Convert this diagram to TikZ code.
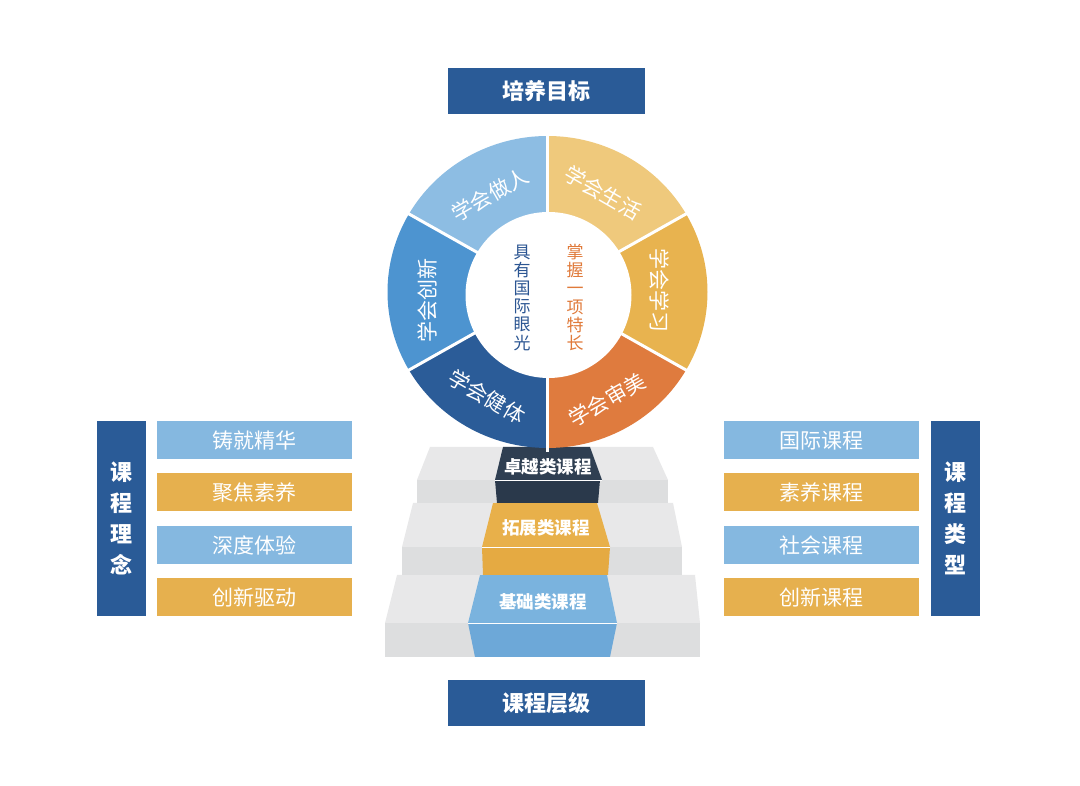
\documentclass[tikz,border=0pt]{standalone}
\usepackage{fontspec}
\setmainfont{Noto Sans CJK SC}
\definecolor{dkblue}{HTML}{2A5B97}
\definecolor{lblue}{HTML}{85B8E0}
\definecolor{yel}{HTML}{E6B04E}
\definecolor{wA}{HTML}{8DBDE3}
\definecolor{wB}{HTML}{4D94D0}
\definecolor{wC}{HTML}{2B5C98}
\definecolor{wD}{HTML}{EFC97C}
\definecolor{wE}{HTML}{E8B34F}
\definecolor{wF}{HTML}{DF7B3E}
\definecolor{ctxtblue}{HTML}{2B5592}
\definecolor{ctxtorange}{HTML}{E07A3A}
\definecolor{stairtop}{HTML}{E8E8E9}
\definecolor{stairfront}{HTML}{DDDEDF}
\definecolor{navy}{HTML}{2F3F52}
\definecolor{navyf}{HTML}{2A394B}
\definecolor{sblue}{HTML}{7AB3DE}
\definecolor{sbluef}{HTML}{6DA8D8}
\definecolor{syel}{HTML}{E8B04A}
\definecolor{syelf}{HTML}{E5AA42}
\tikzset{
  titlebox/.style={fill=dkblue, text=white, font=\bfseries\fontsize{22}{26}\selectfont, minimum width=197, minimum height=46, inner sep=0},
  itembox/.style={text=white, font=\fontsize{21}{25}\selectfont, minimum width=195, minimum height=38, inner sep=0},
  sidebox/.style={fill=dkblue, text=white, font=\bfseries\fontsize{22}{31}\selectfont, minimum width=49, minimum height=195, inner sep=0, align=center},
  wheeltxt/.style={text=white, font=\fontsize{21}{25}\selectfont, inner sep=0},
  centxt/.style={font=\fontsize{17}{18.2}\selectfont, align=center, inner sep=0},
  stairtxt/.style={text=white, font=\bfseries\fontsize{17.5}{20}\selectfont, inner sep=0},
  sep/.style={white, line width=3}
}
\begin{document}
\begin{tikzpicture}[x=1pt,y=1pt]
\useasboundingbox (0,0) rectangle (1080,786);
\fill[white] (0,0) rectangle (1080,786);

% ---------- stairs ----------
% step 3 (bottom)
\fill[stairtop] (397,211) -- (695,211) -- (700,163) -- (385,163) -- cycle;
\fill[stairfront] (385,163) rectangle (700,129);
\fill[sblue] (480,211) -- (607,211) -- (617,163) -- (468,163) -- cycle;
\fill[sbluef] (468,163) -- (617,163) -- (610,129) -- (475,129) -- cycle;
\draw[white, line width=0.8] (468,163) -- (617,163);
% step 2
\fill[stairtop] (413,283) -- (673,283) -- (682,239) -- (402,239) -- cycle;
\fill[stairfront] (402,239) rectangle (682,211);
\fill[syel] (493,283) -- (597,283) -- (610,239) -- (482,239) -- cycle;
\fill[syelf] (482,239) -- (610,239) -- (608,211) -- (483,211) -- cycle;
\draw[white, line width=0.8] (482,239) -- (610,239);
% step 1 (top)
\fill[stairtop] (430,339) -- (653,339) -- (668,306) -- (417,306) -- cycle;
\fill[stairfront] (417,306) rectangle (668,283);
\fill[navy] (503,339) -- (590,339) -- (602,306) -- (495,306) -- cycle;
\fill[navyf] (495,306) -- (600,306) -- (598,283) -- (497,283) -- cycle;
\draw[white, line width=0.8] (495,306) -- (602,306);

\node[stairtxt] (s1) at (548,319) {卓越类课程};
\node[stairtxt] (s2) at (546,258) {拓展类课程};
\node[stairtxt] (s3) at (543,184) {基础类课程};

% ---------- wheel ----------
\coordinate (C) at (547.5,494);
\fill[wA] (C) -- ++(90:160 and 156) arc[start angle=90, end angle=150, x radius=160, y radius=156] -- cycle;
\fill[wB] (C) -- ++(150:160 and 156) arc[start angle=150, end angle=210, x radius=160, y radius=156] -- cycle;
\fill[wC] (C) -- ++(210:160 and 156) arc[start angle=210, end angle=270, x radius=160, y radius=156] -- cycle;
\fill[wD] (C) -- ++(30:160 and 156) arc[start angle=30, end angle=90, x radius=160, y radius=156] -- cycle;
\fill[wE] (C) -- ++(-30:160 and 156) arc[start angle=-30, end angle=30, x radius=160, y radius=156] -- cycle;
\fill[wF] (C) -- ++(-90:160 and 156) arc[start angle=-90, end angle=-30, x radius=160, y radius=156] -- cycle;
\foreach \a in {90,150,210,270,330,30} {
  \draw[sep] (C) -- ++(\a:164 and 160);
}
\fill[white] (548.5,491) circle[radius=83];

\node[wheeltxt, rotate=30]  (w1) at (490,591) {学会做人};
\node[wheeltxt, rotate=90]  (w2) at (427,485) {学会创新};
\node[wheeltxt, rotate=-30] (w3) at (487,389) {学会健体};
\node[wheeltxt, rotate=-30] (w4) at (603,593) {学会生活};
\node[wheeltxt, rotate=-90] (w5) at (660,495) {学会学习};
\node[wheeltxt, rotate=30]  (w6) at (607,386) {学会审美};

\node[centxt, text=ctxtblue] (c1) at (522,488.5) {具\\有\\国\\际\\眼\\光};
\node[centxt, text=ctxtorange] (c2) at (575,488.5) {掌\\握\\一\\项\\特\\长};

% ---------- titles ----------
\node[titlebox] (t1) at (546.5,695) {培养目标};
\node[titlebox] (t2) at (546.5,82.5) {课程层级};

% ---------- left panel ----------
\node[sidebox] (L) at (121.5,267.5) {课\\程\\理\\念};
\node[itembox, fill=lblue] (l1) at (254.5,345.5) {铸就精华};
\node[itembox, fill=yel]   (l2) at (254.5,293.5) {聚焦素养};
\node[itembox, fill=lblue] (l3) at (254.5,241)   {深度体验};
\node[itembox, fill=yel]   (l4) at (254.5,188.5) {创新驱动};

% ---------- right panel ----------
\node[sidebox] (R) at (955.5,267.5) {课\\程\\类\\型};
\node[itembox, fill=lblue] (r1) at (821.5,345.5) {国际课程};
\node[itembox, fill=yel]   (r2) at (821.5,293.5) {素养课程};
\node[itembox, fill=lblue] (r3) at (821.5,241)   {社会课程};
\node[itembox, fill=yel]   (r4) at (821.5,188.5) {创新课程};
\end{tikzpicture}
\end{document}
